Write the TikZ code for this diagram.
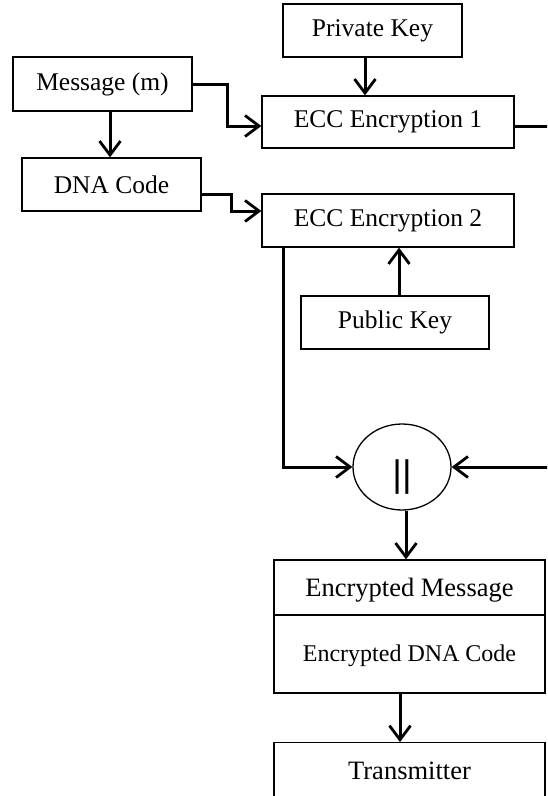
\documentclass[tikz,border=0pt]{standalone}
\usepackage{fontspec}
\setmainfont{Liberation Serif}
\newfontfamily\barfont{Liberation Sans}
\usetikzlibrary{arrows.meta,shapes.geometric}
\begin{document}
\begin{tikzpicture}[x=1pt,y=-1pt,
  box/.style={draw,line width=1.3pt,rectangle,inner sep=0pt,font=\fontsize{25.5}{28}\selectfont},
  conn/.style={line width=3pt,line join=miter},
  arr/.style={conn,-{Straight Barb[length=14pt,width=21pt,line width=2.8pt]}}]
\clip (0,0) rectangle (547,796);
\fill[white] (0,0) rectangle (547,796);
\node[box,minimum width=179pt,minimum height=53pt] (priv) at (372.5,30.5) {Private Key};
\node[box,minimum width=179pt,minimum height=54pt] (msg) at (102.5,84) {Message (m)};
\node[box,minimum width=252pt,minimum height=52pt] (ecc1) at (388,122) {ECC Encryption 1};
\node[box,minimum width=179pt,minimum height=53pt] (dna) at (111.5,184.5) {DNA Code};
\node[box,minimum width=252pt,minimum height=53pt] (ecc2) at (388,220.5) {ECC Encryption 2};
\node[box,minimum width=188pt,minimum height=53pt] (pub) at (395,322.5) {Public Key};
\node[draw,line width=1.3pt,ellipse,minimum width=98pt,minimum height=86pt,inner sep=0pt] (circ) at (402,467) {};
\node[font=\barfont\fontsize{37}{40}\selectfont,inner sep=0pt] (bars) at (402,477.5) {||};
\node[box,minimum width=271pt,minimum height=133pt] (enc) at (409.5,626.5) {};
\node[font=\fontsize{26.5}{30}\selectfont] (encm) at (409.5,590) {Encrypted Message};
\node[font=\fontsize{24}{28}\selectfont] (encd) at (409.5,656) {Encrypted DNA Code};
\draw[line width=1.3pt] (enc.west |- 0,615) -- (enc.east |- 0,615);
\node[box,minimum width=271pt,minimum height=90pt,anchor=north,text depth=0pt] (tx) at (409.5,742) {};
\node[font=\fontsize{26.5}{30}\selectfont] (txt) at (409.5,771) {Transmitter};
% connectors
\draw[arr] (priv.south -| 365,0) -- (ecc1.north -| 365,0);
\draw[arr] (msg.east) -- (227,84) -- (227,126) -- (ecc1.west |- 0,126);
\draw[arr] (msg.south -| 110,0) -- (dna.north -| 110,0);
\draw[arr] (dna.east |- 0,194) -- (231,194) -- (231,211) -- (ecc2.west |- 0,211);
\draw[arr] (pub.north -| 399,0) -- (ecc2.south -| 399,0);
\draw[arr] (ecc2.south -| 283,0) -- (283,467) -- (circ.west);
\draw[arr] (ecc1.east |- 0,126) -- (560,126) -- (560,467) -- (circ.east);
\draw[arr] (circ.south -| 406,0) -- (enc.north -| 406,0);
\draw[arr] (enc.south -| 400,0) -- (tx.north -| 400,0);
\end{tikzpicture}
\end{document}
